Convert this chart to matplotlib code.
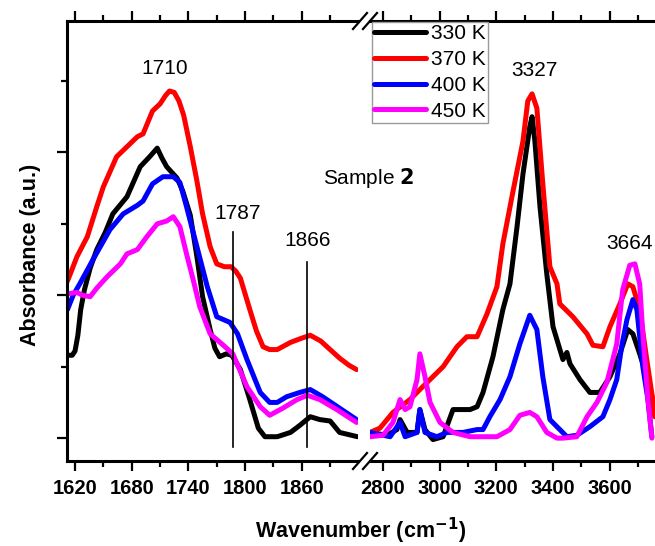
import matplotlib
matplotlib.use("Agg")
import matplotlib.pyplot as plt
from matplotlib.lines import Line2D

plt.rcParams['font.family'] = ['Liberation Sans', 'DejaVu Sans']

# ---------------- data ----------------
labels = ["330 K", "370 K", "400 K", "450 K"]
colors = ["#000000", "#ff0000", "#0000ff", "#ff00ff"]

# Left panel (1610-1920 cm-1)
black_l_x = [1612, 1617, 1620, 1623, 1626, 1630, 1636, 1643, 1652, 1660, 1675, 1689, 1699, 1707,
             1712, 1717, 1728, 1734, 1742, 1749, 1755, 1763, 1768, 1773, 1780, 1786, 1795, 1805,
             1814, 1821, 1834, 1848, 1858, 1869, 1879, 1890, 1900, 1919]
black_l_y = [0.58, 0.58, 0.61, 0.72, 0.90, 1.04, 1.19, 1.32, 1.44, 1.57, 1.69, 1.90, 1.97, 2.03,
             1.96, 1.90, 1.82, 1.73, 1.56, 1.27, 0.99, 0.76, 0.63, 0.57, 0.59, 0.58, 0.48, 0.27,
             0.07, 0.01, 0.01, 0.04, 0.09, 0.15, 0.13, 0.12, 0.04, 0.01]

red_l_x = [1612, 1615, 1622, 1633, 1643, 1650, 1664, 1675, 1686, 1692, 1702, 1710, 1716, 1720,
           1725, 1730, 1735, 1742, 1749, 1755, 1763, 1770, 1778, 1785, 1790, 1795, 1805, 1812,
           1819, 1826, 1834, 1848, 1860, 1869, 1880, 1890, 1900, 1910, 1918]
red_l_y = [1.10, 1.15, 1.27, 1.41, 1.62, 1.76, 1.97, 2.04, 2.11, 2.13, 2.29, 2.34, 2.40, 2.43,
           2.42, 2.36, 2.26, 2.04, 1.80, 1.57, 1.34, 1.22, 1.20, 1.20, 1.17, 1.12, 0.90, 0.75,
           0.64, 0.62, 0.62, 0.67, 0.70, 0.72, 0.68, 0.62, 0.56, 0.51, 0.48]

blue_l_x = [1612, 1618, 1625, 1639, 1657, 1671, 1686, 1692, 1702, 1713, 1724, 1731, 1738, 1749,
            1760, 1770, 1784, 1792, 1802, 1816, 1826, 1834, 1844, 1858, 1869, 1882, 1900, 1918]
blue_l_y = [0.90, 1.00, 1.08, 1.25, 1.46, 1.57, 1.63, 1.66, 1.78, 1.83, 1.83, 1.79, 1.62, 1.34,
            1.06, 0.85, 0.81, 0.73, 0.55, 0.32, 0.25, 0.25, 0.29, 0.32, 0.34, 0.29, 0.21, 0.13]

mag_l_x = [1612, 1622, 1628, 1636, 1643, 1654, 1668, 1675, 1686, 1696, 1707, 1717, 1724, 1731,
           1738, 1745, 1752, 1763, 1777, 1787, 1802, 1816, 1826, 1840, 1855, 1866, 1879, 1897, 1918]
mag_l_y = [1.01, 1.02, 1.00, 0.99, 1.05, 1.13, 1.22, 1.29, 1.32, 1.41, 1.50, 1.52, 1.55, 1.48,
           1.29, 1.11, 0.92, 0.73, 0.65, 0.59, 0.36, 0.22, 0.16, 0.21, 0.27, 0.30, 0.27, 0.20, 0.11]

# Right panel (2750-3760 cm-1)
black_r_x = [2754, 2814, 2849, 2860, 2885, 2920, 2930, 2948, 2976, 3012, 3047, 3082, 3107, 3132,
             3153, 3188, 3223, 3248, 3273, 3294, 3318, 3326, 3336, 3354, 3378, 3400, 3435, 3449,
             3460, 3495, 3530, 3565, 3601, 3636, 3664, 3682, 3706, 3731, 3752, 3759]
black_r_y = [0.04, 0.02, 0.06, 0.13, 0.04, 0.04, 0.20, 0.06, -0.01, 0.01, 0.20, 0.20, 0.20, 0.22,
             0.32, 0.57, 0.90, 1.08, 1.48, 1.85, 2.18, 2.25, 2.08, 1.62, 1.15, 0.78, 0.55, 0.60,
             0.52, 0.41, 0.32, 0.32, 0.43, 0.59, 0.76, 0.73, 0.59, 0.43, 0.27, 0.20]

red_r_x = [2754, 2789, 2835, 2895, 2930, 2976, 3012, 3061, 3096, 3132, 3167, 3202, 3223, 3259,
           3294, 3311, 3326, 3343, 3364, 3389, 3414, 3424, 3470, 3520, 3541, 3576, 3601, 3636,
           3664, 3682, 3706, 3731, 3752, 3759]
red_r_y = [0.04, 0.07, 0.18, 0.27, 0.34, 0.43, 0.50, 0.64, 0.71, 0.71, 0.87, 1.06, 1.36, 1.73,
           2.08, 2.36, 2.41, 2.31, 1.78, 1.20, 1.08, 0.94, 0.85, 0.73, 0.65, 0.64, 0.78, 0.94,
           1.08, 1.06, 0.90, 0.55, 0.27, 0.15]

blue_r_x = [2754, 2825, 2860, 2878, 2920, 2930, 2948, 2990, 3026, 3082, 3132, 3153, 3177, 3213,
            3248, 3283, 3318, 3343, 3364, 3389, 3414, 3449, 3484, 3530, 3576, 3601, 3625, 3643,
            3661, 3682, 3696, 3717, 3735, 3749]
blue_r_y = [0.04, 0.01, 0.11, 0.01, 0.04, 0.20, 0.04, 0.01, 0.04, 0.04, 0.06, 0.06, 0.15, 0.27,
            0.43, 0.66, 0.86, 0.76, 0.43, 0.13, 0.08, 0.01, 0.02, 0.08, 0.15, 0.27, 0.41, 0.65,
            0.83, 0.97, 0.90, 0.50, 0.27, 0.01]

mag_r_x = [2754, 2800, 2835, 2860, 2878, 2895, 2920, 2930, 2948, 2966, 3001, 3047, 3107, 3202,
           3248, 3283, 3318, 3343, 3378, 3414, 3435, 3484, 3520, 3555, 3590, 3611, 3625, 3646,
           3671, 3689, 3706, 3717, 3735, 3749]
mag_r_y = [0.01, 0.02, 0.11, 0.27, 0.20, 0.22, 0.41, 0.59, 0.43, 0.25, 0.11, 0.04, 0.01, 0.01,
           0.06, 0.16, 0.18, 0.15, 0.04, 0.00, 0.00, 0.01, 0.15, 0.25, 0.39, 0.55, 0.66, 1.04,
           1.21, 1.22, 1.08, 0.73, 0.27, 0.00]

left_series = [(black_l_x, black_l_y), (red_l_x, red_l_y), (blue_l_x, blue_l_y), (mag_l_x, mag_l_y)]
right_series = [(black_r_x, black_r_y), (red_r_x, red_r_y), (blue_r_x, blue_r_y), (mag_r_x, mag_r_y)]

left_ticks = [1620, 1680, 1740, 1800, 1860]
left_minor = [1650, 1710, 1770, 1830, 1890]
right_ticks = [2800, 3000, 3200, 3400, 3600]
right_minor = [2900, 3100, 3300, 3500, 3700]
y_major = [0, 1, 2]
y_minor = [0.5, 1.5, 2.5]

peak_lines = [1787, 1866]
# ---------------------------------------------------------------

W, H = 655, 546
fig = plt.figure(figsize=(W / 100, H / 100), dpi=100)

bot = (H - 461) / H
hgt = (461 - 21) / H
ax1 = fig.add_axes([67 / W, bot, (358 - 67) / W, hgt])
ax2 = fig.add_axes([370 / W, bot, (655 - 370) / W, hgt])

lw = 3.6
for (x, y), c in zip(left_series, colors):
    ax1.plot(x, y, color=c, lw=lw, solid_joinstyle='round', solid_capstyle='round')
for (x, y), c, lab in zip(right_series, colors, labels):
    ax2.plot(x, y, color=c, lw=lw, label=lab, solid_joinstyle='round', solid_capstyle='round')

ylim = (-0.16, 2.92)
ax1.set_xlim(1611.5, 1919.5)
ax2.set_xlim(2754, 3760)
for ax in (ax1, ax2):
    ax.set_ylim(*ylim)
    for s in ax.spines.values():
        s.set_linewidth(2.2)
ax1.spines['right'].set_visible(False)
ax2.spines['left'].set_visible(False)
ax2.spines['right'].set_visible(False)

ax1.set_xticks(left_ticks)
ax1.set_xticks(left_minor, minor=True)
ax2.set_xticks(right_ticks)
ax2.set_xticks(right_minor, minor=True)
ax1.set_yticks(y_major)
ax1.set_yticks(y_minor, minor=True)
ax1.set_yticklabels([])
ax2.set_yticks([])

for ax in (ax1, ax2):
    ax.tick_params(axis='x', which='both', direction='out', top=True, width=1.6)
    ax.tick_params(axis='x', which='major', length=7, pad=6)
    ax.tick_params(axis='x', which='minor', length=4)
    for t in ax.get_xticklabels():
        t.set_fontweight('bold')
        t.set_fontsize(14.5)
ax1.tick_params(axis='y', which='both', direction='out', width=1.6)
ax1.tick_params(axis='y', which='major', length=7)
ax1.tick_params(axis='y', which='minor', length=4)

# peak marker lines
ax1.plot([peak_lines[0]] * 2, [-0.063, 1.44], color='black', lw=1.2)
ax1.plot([peak_lines[1]] * 2, [-0.063, 1.23], color='black', lw=1.2)

# annotations
fs = 15
ax1.text(1715, 2.59, "1710", fontsize=fs, ha='center', va='center')
ax1.text(1792, 1.57, "1787", fontsize=fs, ha='center', va='center')
ax1.text(1866, 1.385, "1866", fontsize=fs, ha='center', va='center')
ax2.text(3336, 2.57, "3327", fontsize=fs, ha='center', va='center')
ax2.text(3671, 1.36, "3664", fontsize=fs, ha='center', va='center')
fig.text(369 / W, 1 - 178 / H, r"Sample $\mathbf{2}$", fontsize=fs, ha='center', va='center')

# axis labels
fig.text(31 / W, 1 - 255 / H, "Absorbance (a.u.)", rotation=90, fontsize=15.5,
         fontweight='bold', ha='center', va='center')
fig.text(361 / W, 1 - 531 / H, r"Wavenumber (cm$^{\mathbf{-1}}$)", fontsize=15.5,
         fontweight='bold', ha='center', va='center')

# axis break marks
for yb in (461, 21):
    for xo in (0, 10):
        fig.add_artist(Line2D([(353 + xo) / W, (367 + xo) / W],
                              [1 - (yb + 8) / H, 1 - (yb - 8) / H],
                              color='black', lw=1.6, transform=fig.transFigure))

leg = ax2.legend(loc='upper left', bbox_to_anchor=(372 / W, 1 - 22 / H),
                 bbox_transform=fig.transFigure, fontsize=15, handlelength=2.5,
                 handletextpad=0.25, borderpad=0.1, labelspacing=0.33,
                 borderaxespad=0, fancybox=False, framealpha=1)
leg.get_frame().set_edgecolor('#999999')
leg.get_frame().set_linewidth(1.0)
for l in leg.get_lines():
    l.set_linewidth(3.6)

fig.savefig("out.png", dpi=100)
